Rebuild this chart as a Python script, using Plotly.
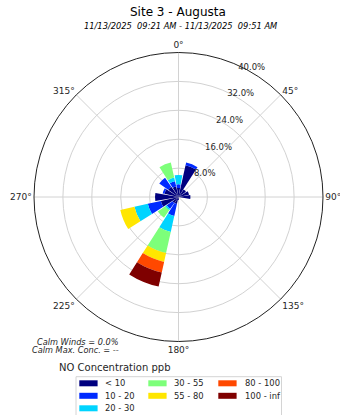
import plotly.graph_objects as go

# ---------------- data ----------------
directions = [0, 22.5, 45, 67.5, 90, 112.5, 135, 157.5,
              180, 202.5, 225, 247.5, 270, 292.5, 315, 337.5]
bins = ["< 10", "10 - 20", "20 - 30", "30 - 55", "55 - 80", "80 - 100", "100 - inf"]
colors = ["#00007f", "#002aff", "#00d4ff", "#7dff7a", "#ffe600", "#ff4800", "#7f0000"]

# percent frequency per direction (N, NNE, ..., NNW) for each concentration bin
freq_lt10 = [2.5, 9.0, 2.5, 3.0, 3.3, 0, 0, 0, 0.8, 2.0, 2.0, 5.0, 6.5, 4.0, 3.5, 3.0]
freq_10_20 = [1.0, 0.8, 0, 0, 0, 0, 0, 0, 0, 3.4, 2.0, 3.7, 0, 0.5, 3.0, 1.5]
freq_20_30 = [2.6, 0, 0, 0, 0, 0, 0, 0, 0, 4.5, 0.5, 3.8, 0, 0, 0, 1.0]
freq_30_55 = [0, 0, 0, 0, 0, 0, 0, 0, 0, 6.0, 2.5, 0, 0, 0, 0, 4.3]
freq_55_80 = [0, 0, 0, 0, 0, 0, 0, 0, 0, 2.5, 0, 4.0, 0, 0, 0, 0]
freq_80_100 = [0, 0, 0, 0, 0, 0, 0, 0, 0, 3.0, 0, 0, 0, 0, 0, 0]
freq_100_inf = [0, 0, 0, 0, 0, 0, 0, 0, 0, 4.0, 0, 0, 0, 0, 0, 0]
series = [freq_lt10, freq_10_20, freq_20_30, freq_30_55, freq_55_80, freq_80_100, freq_100_inf]

radial_ticks = [8, 16, 24, 32, 40]
radial_labels = ["8.0%", "16.0%", "24.0%", "32.0%", "40.0%"]
angle_ticks = [0, 45, 90, 135, 180, 225, 270, 315]
angle_labels = ["0°", "45°", "90°", "135°", "180°", "225°", "270°", "315°"]

title = "Site 3 - Augusta"
subtitle = "11/13/2025\u00a0 09:21 AM - 11/13/2025\u00a0 09:51 AM"
legend_title = "NO Concentration ppb"
calm_lines = ["Calm Winds = 0.0%", "Calm Max. Conc. = --"]

# ---------------- figure ----------------
W, H = 340, 415
FONT = "DejaVu Sans"
TXT = "#262626"


def px(x):
    return x / W


def py(y):
    return 1 - y / H


fig = go.Figure()
for name, vals, col in zip(bins, series, colors):
    fig.add_trace(go.Barpolar(
        r=vals, theta=directions, name=name, width=20,
        marker=dict(color=col, line=dict(width=0)),
        showlegend=False,
    ))

cx, cy, R = 178.5, 197, 144.5
fig.update_layout(
    width=W, height=H,
    margin=dict(l=0, r=0, t=0, b=0),
    paper_bgcolor="white",
    font=dict(family=FONT, size=9, color=TXT),
    showlegend=False,
    polar=dict(
        domain=dict(x=[px(cx - R), px(cx + R)], y=[py(cy + R), py(cy - R)]),
        bgcolor="white",
        barmode="stack",
        angularaxis=dict(
            rotation=90, direction="clockwise",
            tickmode="array", tickvals=angle_ticks, ticktext=angle_labels,
            showline=True, linecolor="#222222", linewidth=1,
            gridcolor="#d2d2d2", gridwidth=1, ticks="",
            tickfont=dict(size=9, color=TXT, family=FONT),
        ),
        radialaxis=dict(
            range=[0, 40], tickmode="array", tickvals=radial_ticks, ticktext=radial_labels,
            angle=67.5, tickangle=67.5, side="clockwise", showline=False, ticks="",
            gridcolor="#d2d2d2", gridwidth=1,
            tickfont=dict(size=8.5, color=TXT, family=FONT),
        ),
    ),
)

ann = []
ann.append(dict(text=title, x=px(178), y=py(12), xref="paper", yref="paper",
                showarrow=False, xanchor="center", yanchor="middle",
                font=dict(size=12, family=FONT, color="black")))
ann.append(dict(text="<i>" + subtitle + "</i>", x=px(180), y=py(26), xref="paper", yref="paper",
                showarrow=False, xanchor="center", yanchor="middle",
                font=dict(size=8.3, family=FONT, color="black")))
for i, line in enumerate(calm_lines):
    ann.append(dict(text="<i>" + line + "</i>", x=px(121), y=py(341.5 + 8.6 * i),
                    xref="paper", yref="paper", showarrow=False,
                    xanchor="right", yanchor="middle",
                    font=dict(size=8.2, family=FONT, color=TXT)))
ann.append(dict(text=legend_title, x=px(56.5), y=py(367.5), xref="paper", yref="paper",
                showarrow=False, xanchor="left", yanchor="middle",
                font=dict(size=10, family=FONT, color=TXT)))

shapes = []
# legend frame
shapes.append(dict(type="rect", xref="paper", yref="paper",
                   x0=px(76), x1=px(281.5), y0=py(430), y1=py(376.7),
                   line=dict(color="#d4d4d4", width=1), fillcolor="rgba(255,255,255,0.8)",
                   layer="above"))
# legend entries, column-major: 3 rows in first column, 2 in others
col_sw = [79.3, 148.3, 218.3]
col_tx = [103.3, 172.3, 242.7]
row_y = [383.3, 395.8, 408.3]
for k, (name, col) in enumerate(zip(bins, colors)):
    if k < 3:
        c, r_ = 0, k
    elif k < 5:
        c, r_ = 1, k - 3
    else:
        c, r_ = 2, k - 5
    yy = row_y[r_]
    shapes.append(dict(type="rect", xref="paper", yref="paper",
                       x0=px(col_sw[c]), x1=px(col_sw[c] + 18.3),
                       y0=py(yy + 3), y1=py(yy - 3),
                       line=dict(width=0), fillcolor=col, layer="above"))
    ann.append(dict(text=name, x=px(col_tx[c]), y=py(yy), xref="paper", yref="paper",
                    showarrow=False, xanchor="left", yanchor="middle",
                    font=dict(size=8.4, family=FONT, color=TXT)))

fig.update_layout(annotations=ann, shapes=shapes)
fig.write_html("out.html", config={"displayModeBar": False},
               post_script="document.body.style.margin='0';document.body.style.overflow='hidden';")
